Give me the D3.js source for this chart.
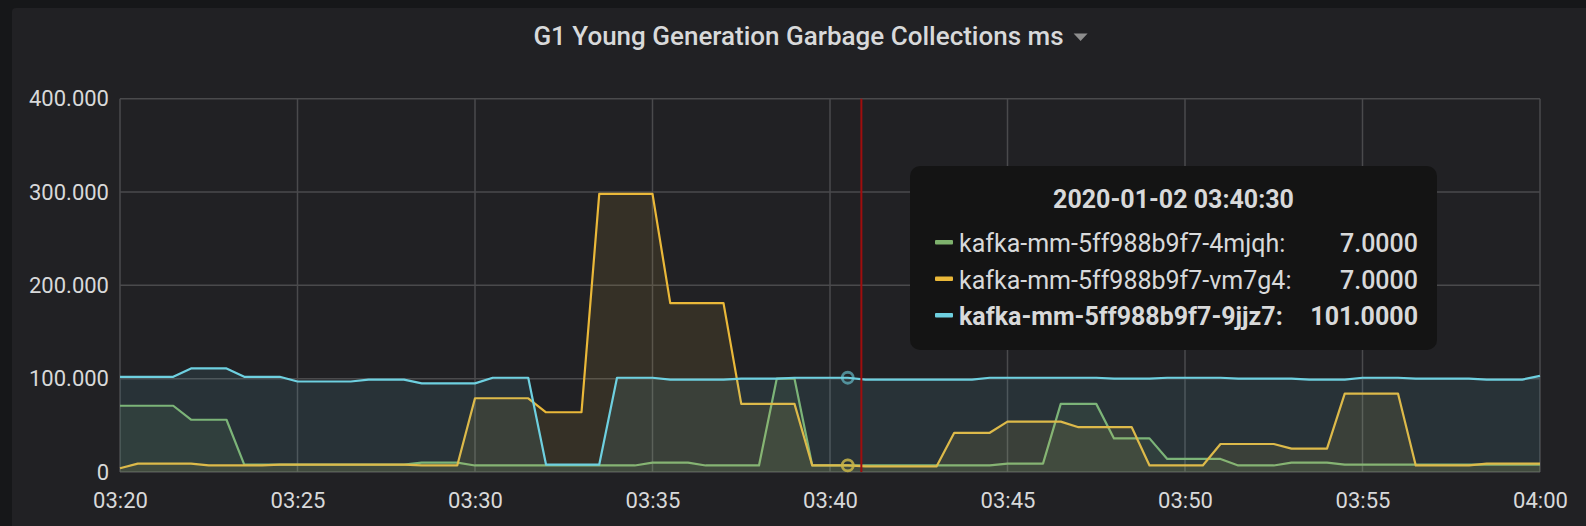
<!DOCTYPE html>
<html>
<head>
<meta charset="utf-8">
<script src="https://cdn.jsdelivr.net/npm/d3@7"></script>
<style>
  body { margin: 0; background: #161719; overflow: hidden; }
  svg { display: block; font-family: Roboto, "Noto Sans", sans-serif; }
</style>
</head>
<body>
<svg id="chart"></svg>
<script>
// sample times (30s steps)
const times = [
  "03:20:00", "03:20:30", "03:21:00", "03:21:30", "03:22:00", "03:22:30", "03:23:00", "03:23:30", "03:24:00", "03:24:30",
  "03:25:00", "03:25:30", "03:26:00", "03:26:30", "03:27:00", "03:27:30", "03:28:00", "03:28:30", "03:29:00", "03:29:30",
  "03:30:00", "03:30:30", "03:31:00", "03:31:30", "03:32:00", "03:32:30", "03:33:00", "03:33:30", "03:34:00", "03:34:30",
  "03:35:00", "03:35:30", "03:36:00", "03:36:30", "03:37:00", "03:37:30", "03:38:00", "03:38:30", "03:39:00", "03:39:30",
  "03:40:00", "03:40:30", "03:41:00", "03:41:30", "03:42:00", "03:42:30", "03:43:00", "03:43:30", "03:44:00", "03:44:30",
  "03:45:00", "03:45:30", "03:46:00", "03:46:30", "03:47:00", "03:47:30", "03:48:00", "03:48:30", "03:49:00", "03:49:30",
  "03:50:00", "03:50:30", "03:51:00", "03:51:30", "03:52:00", "03:52:30", "03:53:00", "03:53:30", "03:54:00", "03:54:30",
  "03:55:00", "03:55:30", "03:56:00", "03:56:30", "03:57:00", "03:57:30", "03:58:00", "03:58:30", "03:59:00", "03:59:30",
  "04:00:00"
];

const seriesNames = ["kafka-mm-5ff988b9f7-4mjqh", "kafka-mm-5ff988b9f7-vm7g4", "kafka-mm-5ff988b9f7-9jjz7"];
const seriesColors = ["#7eb26d", "#eab839", "#6ed0e0"];

const mjqh = [
  71, 71, 71, 71, 56, 56, 56, 8, 8, 8,
  8, 8, 8, 8, 8, 8, 8, 10, 10, 10,
  7, 7, 7, 7, 7, 7, 7, 7, 7, 7,
  10, 10, 10, 7, 7, 7, 7, 100, 100, 7,
  7, 7, 7, 7, 7, 7, 7, 7, 7, 7,
  9, 9, 9, 73, 73, 73, 36, 36, 36, 14,
  14, 14, 14, 7, 7, 7, 10, 10, 10, 8,
  8, 8, 8, 8, 8, 8, 8, 8, 8, 8,
  8
];
const vm7g4 = [
  4, 9, 9, 9, 9, 7, 7, 7, 7, 8,
  8, 8, 8, 8, 8, 8, 8, 7, 7, 7,
  79, 79, 79, 79, 64, 64, 64, 298, 298, 298,
  298, 181, 181, 181, 181, 73, 73, 73, 73, 7,
  7, 7, 6, 6, 6, 6, 6, 42, 42, 42,
  54, 54, 54, 54, 48, 48, 48, 48, 7, 7,
  7, 7, 30, 30, 30, 30, 25, 25, 25, 84,
  84, 84, 84, 7, 7, 7, 7, 9, 9, 9,
  9
];
const jjz7 = [
  102, 102, 102, 102, 111, 111, 111, 102, 102, 102,
  97, 97, 97, 97, 99, 99, 99, 95, 95, 95,
  95, 101, 101, 101, 8, 8, 8, 8, 101, 101,
  101, 99, 99, 99, 99, 100, 100, 100, 101, 101,
  101, 101, 99, 99, 99, 99, 99, 99, 99, 101,
  101, 101, 101, 101, 101, 101, 100, 100, 100, 101,
  101, 101, 101, 100, 100, 100, 100, 99, 99, 99,
  101, 101, 101, 100, 100, 100, 100, 99, 99, 99,
  103
];

const xTickLabels = ["03:20", "03:25", "03:30", "03:35", "03:40", "03:45", "03:50", "03:55", "04:00"];
const yTickValues = [0, 100, 200, 300, 400];

const title = "G1 Young Generation Garbage Collections ms";
const hoverDate = "2020-01-02";
const hoverTime = "03:40:30";
const cursorTime = "03:40:53";
const highlighted = 2;

const W = 1586, H = 526;
const margin = { top: 98.7, right: 46, bottom: 54, left: 120 };

const parseT = d3.timeParse("%H:%M:%S");
const parseHM = d3.timeParse("%H:%M");

const svg = d3.select("#chart").attr("width", W).attr("height", H);

// panel background
svg.append("rect")
    .attr("x", 12).attr("y", 8)
    .attr("width", W).attr("height", H)
    .attr("rx", 4)
    .attr("fill", "#212124");

// title + dropdown caret
const titleText = svg.append("text")
    .attr("x", 798.5).attr("y", 45)
    .attr("text-anchor", "middle")
    .attr("font-size", 26)
    .attr("font-weight", 500)
    .attr("fill", "#d8d9da")
    .text(title);
const tb = titleText.node().getBBox();
const cx = tb.x + tb.width + 17;
svg.append("path")
    .attr("d", `M${cx - 7},33.5 L${cx + 7},33.5 L${cx},41 Z`)
    .attr("fill", "#8e8e8e");

const x = d3.scaleTime()
    .domain([parseT(times[0]), parseT(times[times.length - 1])])
    .range([margin.left, W - margin.right]);
const y = d3.scaleLinear()
    .domain([0, 400])
    .range([H - margin.bottom, margin.top]);

// grid
const grid = svg.append("g").attr("stroke", "#4a4a4c").attr("stroke-width", 1.5);
grid.selectAll(".vg")
    .data(xTickLabels)
    .join("line")
    .attr("x1", d => x(parseHM(d))).attr("x2", d => x(parseHM(d)))
    .attr("y1", y(400)).attr("y2", y(0));
grid.selectAll(".hg")
    .data(yTickValues)
    .join("line")
    .attr("x1", x.range()[0]).attr("x2", x.range()[1])
    .attr("y1", d => y(d)).attr("y2", d => y(d));

// axes
const xAxis = svg.append("g")
    .attr("transform", `translate(0, ${y(0)})`)
    .call(d3.axisBottom(x)
        .tickValues(xTickLabels.map(parseHM))
        .tickFormat(d3.timeFormat("%H:%M"))
        .tickSize(0)
        .tickPadding(20));
const yAxis = svg.append("g")
    .attr("transform", `translate(${x.range()[0]}, 0)`)
    .call(d3.axisLeft(y)
        .tickValues(yTickValues)
        .tickFormat(d => d === 0 ? "0" : d3.format(".3f")(d))
        .tickSize(0)
        .tickPadding(11));
[xAxis, yAxis].forEach(a => {
    a.select(".domain").remove();
    a.selectAll("text")
        .attr("fill", "#d8d9da")
        .attr("font-size", 22)
        .attr("font-family", "Roboto, sans-serif");
});

// series
const allSeries = [mjqh, vm7g4, jjz7].map((vals, i) => ({
    name: seriesNames[i],
    color: seriesColors[i],
    points: vals.map((v, j) => ({ t: parseT(times[j]), v: v }))
}));

const area = d3.area()
    .x(d => x(d.t))
    .y0(y(0))
    .y1(d => y(d.v));
const line = d3.line()
    .x(d => x(d.t))
    .y(d => y(d.v));

const plot = svg.append("g");
allSeries.forEach(s => {
    plot.append("path")
        .attr("d", area(s.points))
        .attr("fill", s.color)
        .attr("fill-opacity", 0.1);
    plot.append("path")
        .attr("d", line(s.points))
        .attr("fill", "none")
        .attr("stroke", s.color)
        .attr("stroke-width", 2.2)
        .attr("stroke-linejoin", "round");
});

// hover markers
const hoverIdx = times.indexOf(hoverTime);
allSeries.forEach(s => {
    plot.append("circle")
        .attr("cx", x(s.points[hoverIdx].t))
        .attr("cy", y(s.points[hoverIdx].v))
        .attr("r", 5.5)
        .attr("fill", "none")
        .attr("stroke", s.color)
        .attr("stroke-opacity", 0.6)
        .attr("stroke-width", 2.8);
});

// cursor line
svg.append("line")
    .attr("x1", x(parseT(cursorTime))).attr("x2", x(parseT(cursorTime)))
    .attr("y1", y(400)).attr("y2", y(0))
    .attr("stroke", "#a00d0d")
    .attr("stroke-width", 2);

// tooltip
const tip = svg.append("g").attr("transform", "translate(910, 166)");
tip.append("rect")
    .attr("width", 527).attr("height", 184)
    .attr("rx", 10)
    .attr("fill", "#141414");
tip.append("text")
    .attr("x", 263.5).attr("y", 42)
    .attr("text-anchor", "middle")
    .attr("font-size", 25)
    .attr("font-weight", 700)
    .attr("fill", "#d8d9da")
    .text(`${hoverDate} ${hoverTime}`);

const rows = tip.selectAll(".row")
    .data(allSeries)
    .join("g")
    .attr("transform", (d, i) => `translate(0, ${86 + i * 36.5})`);
rows.append("rect")
    .attr("x", 25).attr("y", -12)
    .attr("width", 18).attr("height", 4.5)
    .attr("rx", 1)
    .attr("fill", d => d.color);
rows.append("text")
    .attr("x", 49)
    .attr("font-size", 25)
    .attr("font-weight", (d, i) => i === highlighted ? 700 : 400)
    .attr("fill", "#d8d9da")
    .text(d => d.name + ":");
rows.append("text")
    .attr("x", 508)
    .attr("text-anchor", "end")
    .attr("font-size", 25)
    .attr("font-weight", (d, i) => i === highlighted ? 700 : 500)
    .attr("fill", "#d8d9da")
    .text(d => d3.format(".4f")(d.points[hoverIdx].v));
</script>
</body>
</html>
